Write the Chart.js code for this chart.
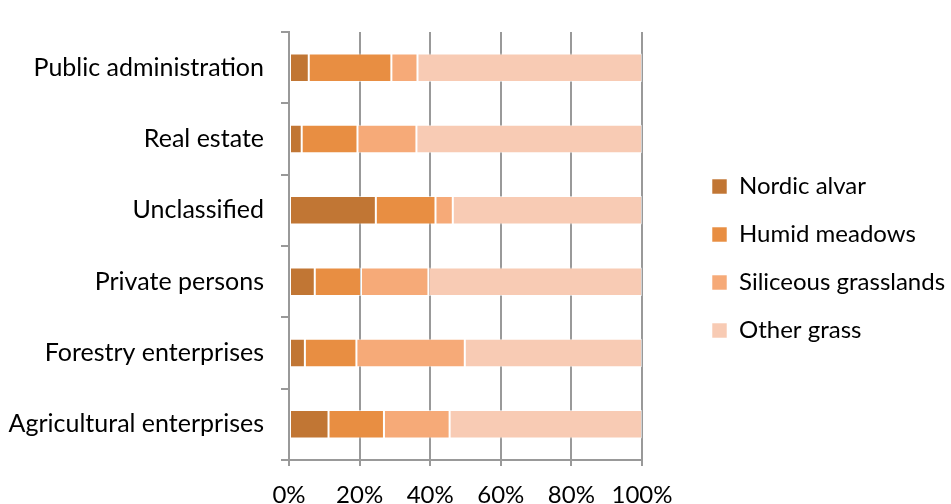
<!DOCTYPE html>
<html>
<head>
<meta charset="utf-8">
<script src="https://cdn.jsdelivr.net/npm/chart.js@4/dist/chart.umd.min.js"></script>
<style>
  html, body { margin: 0; padding: 0; background: #ffffff; overflow: hidden; }
  #wrap { width: 951px; height: 504px; position: relative; }
</style>
</head>
<body>
<div id="wrap"><canvas id="chart"></canvas></div>
<script>
// Land owner groups (top to bottom)
const owners = [
  'Public administration',
  'Real estate',
  'Unclassified',
  'Private persons',
  'Forestry enterprises',
  'Agricultural enterprises'
];

// Share of each grassland type per owner group, %
const nordicAlvar        = [5.6, 3.6, 24.6, 7.3, 4.5, 11.2];
const humidMeadows       = [23.4, 15.8, 16.9, 13.1, 14.6, 15.7];
const siliceousGrassland = [7.4, 16.7, 4.9, 19.1, 30.7, 18.6];
const otherGrass         = [63.6, 63.9, 53.6, 60.5, 50.2, 54.5];

const percentTicks = [0, 20, 40, 60, 80, 100];

const AXIS_GREY = '#999999';
const FONT = 'Lato, "Open Sans", sans-serif';
const LEGEND_WIDTH = 263;

function series(label, data, color) {
  return {
    label: label,
    data: data,
    backgroundColor: color,
    borderColor: 'rgba(255,255,255,0.55)',
    borderWidth: 1,
    borderSkipped: false,
    barPercentage: 0.4,
    categoryPercentage: 1.0
  };
}

// Give the right-hand legend a fixed width instead of the default half-of-chart cap
const legendWidthPlugin = {
  id: 'legendWidth',
  beforeLayout(chart) {
    const lg = chart.legend;
    if (lg && !lg._fixedWidth) {
      const fit = lg.fit.bind(lg);
      lg.fit = function () {
        fit();
        this.width = LEGEND_WIDTH;
      };
      lg._fixedWidth = true;
    }
  }
};

new Chart(document.getElementById('chart'), {
  type: 'bar',
  data: {
    labels: owners,
    datasets: [
      series('Nordic alvar', nordicAlvar, '#c17634'),
      series('Humid meadows', humidMeadows, '#e88e42'),
      series('Siliceous grasslands', siliceousGrassland, '#f6aa78'),
      series('Other grass', otherGrass, '#f8cbb4')
    ]
  },
  plugins: [legendWidthPlugin],
  options: {
    indexAxis: 'y',
    responsive: true,
    maintainAspectRatio: false,
    animation: false,
    layout: { padding: { top: 13, bottom: 0, left: 0, right: 0 } },
    plugins: {
      tooltip: { enabled: false },
      legend: {
        position: 'right',
        align: 'center',
        labels: {
          font: { family: FONT, size: 24 },
          color: '#000000',
          boxWidth: 15,
          boxHeight: 15,
          padding: 24
        }
      }
    },
    scales: {
      x: {
        stacked: true,
        min: 0,
        max: 100,
        afterBuildTicks: (scale) => {
          scale.ticks = percentTicks.map(v => ({ value: v }));
        },
        afterFit: (scale) => { scale.height = 44; },
        grid: {
          color: AXIS_GREY,
          lineWidth: 2,
          drawTicks: true,
          tickLength: 6,
          tickColor: AXIS_GREY
        },
        border: { display: true, color: AXIS_GREY, width: 2 },
        ticks: {
          padding: 15,
          maxRotation: 0,
          color: '#000000',
          font: { family: FONT, size: 24 },
          callback: (v) => v + '%'
        }
      },
      y: {
        stacked: true,
        position: 'left',
        afterFit: (scale) => { scale.width = 289; },
        grid: {
          offset: true,
          drawOnChartArea: false,
          drawTicks: true,
          tickLength: 8,
          lineWidth: 2,
          color: AXIS_GREY,
          tickColor: AXIS_GREY
        },
        border: { display: true, color: AXIS_GREY, width: 2 },
        ticks: {
          padding: 17,
          color: '#000000',
          font: { family: FONT, size: 25 }
        }
      },
      // blank spacer between plot area and legend
      gap: {
        type: 'linear',
        axis: 'y',
        position: 'right',
        display: true,
        afterFit: (scale) => { scale.width = 46; },
        grid: { display: false, drawTicks: false },
        border: { display: false },
        ticks: { display: false }
      }
    }
  }
});
</script>
</body>
</html>
